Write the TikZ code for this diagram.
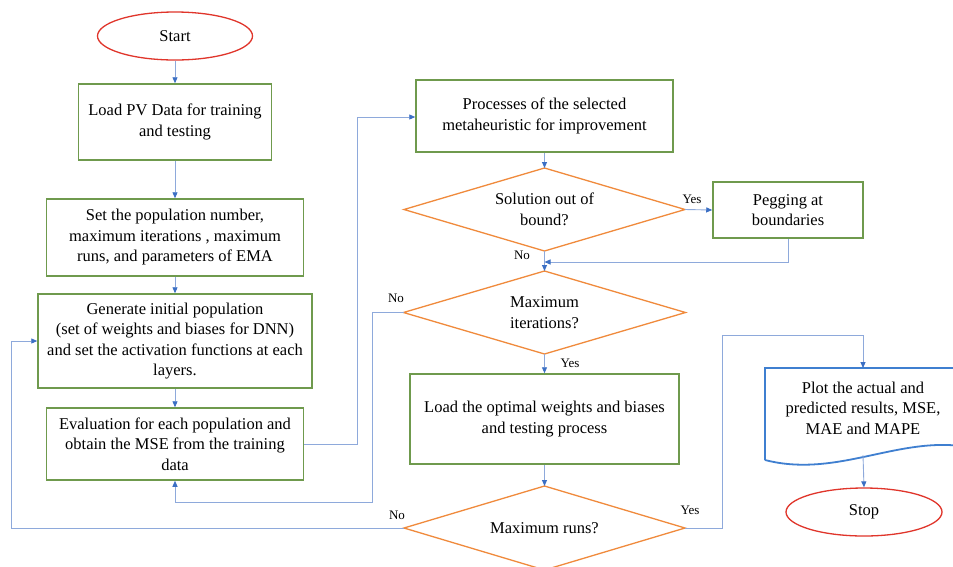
\documentclass[tikz,border=0pt]{standalone}
\usepackage{fontspec}
\setmainfont{Liberation Serif}
\usetikzlibrary{shapes.geometric,arrows.meta,calc}
\definecolor{boxgreen}{HTML}{6F9A4D}
\definecolor{dorange}{HTML}{F08A3C}
\definecolor{lineblue}{HTML}{8EA9DB}
\definecolor{tipblue}{HTML}{3B6FC4}
\definecolor{ovalred}{HTML}{E0352B}
\definecolor{plotblue}{HTML}{3F7FD0}
\tikzset{
  txt/.style={font=\fontsize{16.5}{20.5}\selectfont, align=center, inner sep=0pt},
  procbox/.style={txt, rectangle, draw=boxgreen, line width=1.5pt},
  decline/.style={draw=dorange, line width=1.3pt, line join=miter},
  termbox/.style={txt, ellipse, draw=ovalred, line width=1.3pt},
  conn/.style={draw=lineblue, line width=0.9pt, -{Triangle[length=6pt,width=5pt,color=tipblue]}},
  lbl/.style={font=\fontsize{13}{15}\selectfont, inner sep=0pt}
}
% diamond outline from centre, half width, half height
\newcommand{\decshape}[4]{%
  \coordinate (#1-n) at ($(#2)+(0,-#4)$);
  \coordinate (#1-s) at ($(#2)+(0,#4)$);
  \coordinate (#1-e) at ($(#2)+(#3,0)$);
  \coordinate (#1-w) at ($(#2)+(-#3,0)$);
  \draw[decline] (#1-n) -- (#1-e) -- (#1-s) -- (#1-w) -- cycle;}
\begin{document}
\begin{tikzpicture}[x=1pt,y=-1pt]
\clip (0,0) rectangle (953,566);
\fill[white] (0,0) rectangle (953,566);

% left column
\node[termbox, minimum width=155pt, minimum height=48pt] (start) at (175,36) {Start};
\node[procbox, minimum width=193pt, minimum height=76pt] (load) at (175,122) {Load PV Data for training\\and testing};
\node[procbox, minimum width=257pt, minimum height=77pt] (set) at (175,237.5) {Set the population number,\\maximum iterations , maximum\\runs, and parameters of EMA};
\node[procbox, minimum width=274pt, minimum height=94pt] (gen) at (175,341) {Generate initial population\\(set of weights and biases for DNN)\\and set the activation functions at each\\layers.};
\node[procbox, minimum width=257pt, minimum height=72pt] (eval) at (175,444) {Evaluation for each population and\\obtain the MSE from the training\\data};

% middle column
\node[procbox, minimum width=257pt, minimum height=72pt] (proc) at (544.5,116) {Processes of the selected\\metaheuristic for improvement};
\node[txt] (sol) at (544.5,209.5) {Solution out of\\bound?};
\decshape{sol}{sol}{140.5}{41.5}
\node[procbox, minimum width=150pt, minimum height=56pt] (peg) at (788,210) {Pegging at\\boundaries};
\node[txt] (maxit) at (544.5,312.5) {Maximum\\iterations?};
\decshape{maxit}{maxit}{141}{41.5}
\node[procbox, minimum width=269pt, minimum height=90pt] (lopt) at (544.5,419) {Load the optimal weights and biases\\and testing process};
\node[txt] (maxrun) at (544.5,528) {Maximum runs?};
\decshape{maxrun}{maxrun}{140.5}{42}

% right column
\draw[draw=plotblue, line width=1.8pt] (765,460) -- (765,368) -- (961,368) -- (961,446)
  .. controls (895,438) and (835,478) .. (765,460);
\node[txt] (plot) at (863,408) {Plot the actual and\\predicted results, MSE,\\MAE and MAPE};
\coordinate (ptop) at (863,368);
\coordinate (pbot) at (863,455);
\node[termbox, minimum width=156pt, minimum height=48pt] (stop) at (864,512) {Stop};

% bend points
\coordinate (j) at (544.5,262);
\coordinate (b1) at (372,502);
\coordinate (b2) at (722,335);
\coordinate (b3) at (11,528);
\coordinate (b4) at (357,117);

% connectors
\draw[conn] (start) -- (load);
\draw[conn] (load) -- (set);
\draw[conn] (set) -- (gen);
\draw[conn] (gen) -- (eval);
\draw[conn] (eval.east) -| (b4) -- (proc.west |- b4);
\draw[conn] (proc.south) -- (sol-n);
\draw[conn] (sol-e) -- (peg.west);
\draw[conn] (sol-s) -- (maxit-n);
\draw[conn] (peg.south) |- (j);
\draw[conn] (maxit-w) -| (b1) -| (eval.south);
\draw[conn] (maxit-s) -- (lopt.north);
\draw[conn] (lopt.south) -- (maxrun-n);
\draw[conn] (maxrun-e) -| (b2) -| (ptop);
\draw[conn] (maxrun-w) -- (b3) |- (gen.west);
\draw[conn] (pbot) -- (stop.north);

% labels
\node[lbl] (l1) at (692,199) {Yes};
\node[lbl] (l2) at (522,255) {No};
\node[lbl] (l3) at (396,298) {No};
\node[lbl] (l4) at (570,363) {Yes};
\node[lbl] (l5) at (690,510) {Yes};
\node[lbl] (l6) at (397,515) {No};
\end{tikzpicture}
\end{document}
